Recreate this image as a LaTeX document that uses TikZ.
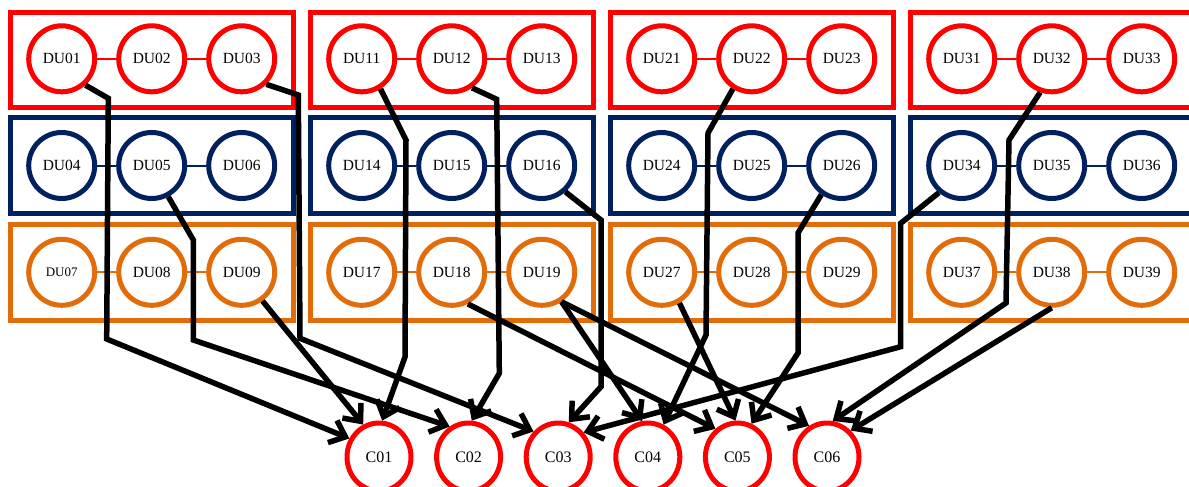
\documentclass[tikz,border=0pt]{standalone}
\usepackage{fontspec}
\setmainfont{Liberation Serif}
\usetikzlibrary{arrows.meta,shapes.geometric}
\definecolor{cred}{HTML}{FF0000}
\definecolor{cblue}{HTML}{002060}
\definecolor{corange}{HTML}{E36C0A}
\begin{document}
\begin{tikzpicture}[x=1pt,y=-1pt,
  du/.style={circle, draw=#1, line width=5pt, minimum size=66pt, inner sep=0pt, fill=white,
    font=\fontsize{15.5}{17}\selectfont},
  smalllabel/.style={font=\fontsize{13}{15}\selectfont},
  grp/.style={draw=#1, line width=4.6pt},
  link/.style={draw=#1, line width=2pt},
  cn/.style={ellipse, draw=cred, line width=5pt, minimum width=64pt, minimum height=68pt,
    inner sep=0pt, fill=white, font=\fontsize{16}{18}\selectfont},
  arr/.style={draw=black, line width=5.5pt, -{Straight Barb[length=14pt,width=24pt]}},
]
\fill[white] (0,0) rectangle (1189,487);
\clip (0,0) rectangle (1189,487);
\useasboundingbox (0,0) rectangle (1189,487);

% group boxes and DU nodes
\foreach \c in {0,1,2,3}{
  \foreach \r/\col/\ta/\tb/\cy in {0/cred/12.3/107.7/58.8, 1/cblue/117.2/213.5/165.5, 2/corange/224.2/320.2/272.3}{
    \pgfmathsetmacro\bx{300*\c}
    \draw[grp=\col] (\bx+10.3,\ta) rectangle (\bx+293.7,\tb);
    \foreach \k in {0,1,2}{
      \pgfmathtruncatemacro\n{3*\r+\k+1}
      \pgfmathsetmacro\cx{\bx+61.7+90*\k}
      \ifnum\c=0 \ifnum\n=7
        \node[du=\col, smalllabel] (DU\c\n) at (\cx,\cy) {DU\c\n};
      \else
        \node[du=\col] (DU\c\n) at (\cx,\cy) {DU\c\n};
      \fi\else
        \node[du=\col] (DU\c\n) at (\cx,\cy) {DU\c\n};
      \fi
    }
    \pgfmathtruncatemacro\na{3*\r+1}
    \pgfmathtruncatemacro\nb{3*\r+2}
    \pgfmathtruncatemacro\nc{3*\r+3}
    \draw[link=\col] (DU\c\na) -- (DU\c\nb);
    \draw[link=\col] (DU\c\nb) -- (DU\c\nc);
  }
}

% C nodes
\foreach \i/\x in {1/379,2/468.6,3/558.2,4/647.8,5/737.4,6/827}{
  \node[cn] (C0\i) at (\x,457) {C0\i};
}

% connectors
\draw[arr] (DU01.-48) -- (108.3,98.3) -- (106.7,339) -- (C01.148.5);
\draw[arr] (DU09.-54.5) -- (C01.116.6);
\draw[arr] (DU11.-58) -- (406,140) -- (405,357) -- (C01.85);
\draw[arr] (DU05.-62) -- (193.3,240) -- (193.3,340) -- (C02.122);
\draw[arr] (DU12.-55) -- (496.7,99.3) -- (499.3,373.3) -- (C02.85);
\draw[arr] (DU03.-46) -- (298.3,95) -- (300,338.3) -- (C03.134);
\draw[arr] (DU16.-48) -- (601,220) -- (601,386.7) -- (C03.73);
\draw[arr] (DU34.-130) -- (900.7,223.3) -- (900.7,346.7) -- (C03.44);
\draw[arr] (DU19.-56.5) -- (C04.99);
\draw[arr] (DU22.-122) -- (708,133) -- (706,335) -- (C04.64);
\draw[arr] (DU18.-63) -- (C05.128.5);
\draw[arr] (DU27.-60.5) -- (C05.93);
\draw[arr] (DU26.-125) -- (798,233) -- (798,353) -- (C05.67);
\draw[arr] (DU19.-56.5) -- (C06.120.7);
\draw[arr] (DU32.-109) -- (1009,140) -- (1006,303) -- (C06.81);
\draw[arr] (DU38.-90) -- (C06.48);
\end{tikzpicture}
\end{document}
